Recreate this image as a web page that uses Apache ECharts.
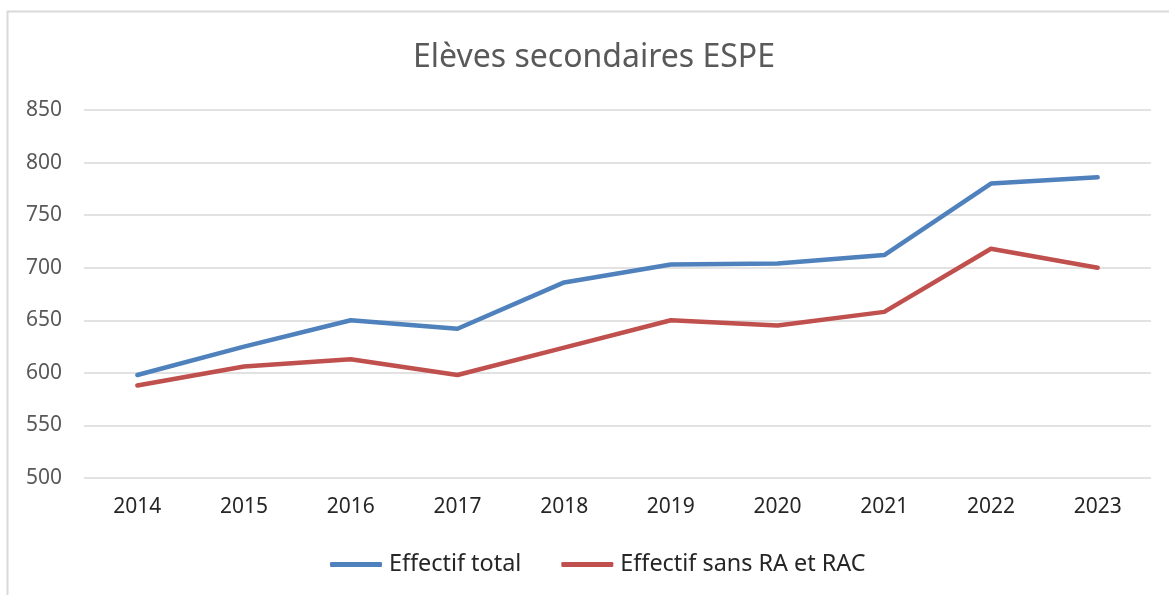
<!DOCTYPE html>
<html>
<head>
<meta charset="utf-8">
<script src="https://cdn.jsdelivr.net/npm/echarts@6/dist/echarts.min.js"></script>
<style>
  html, body { margin: 0; padding: 0; background: #ffffff; }
  #chart { width: 1169px; height: 595px; }
</style>
</head>
<body>
<div id="chart"></div>
<script>
const categories = ['2014', '2015', '2016', '2017', '2018', '2019', '2020', '2021', '2022', '2023'];
const effectifTotal = [598, 625, 650, 642, 686, 703, 704, 712, 780, 786];
const effectifSansRA = [588, 606, 613, 598, 624, 650, 645, 658, 718, 700];
const yTicks = { min: 500, max: 850, interval: 50 };
const seriesNames = ['Effectif total', 'Effectif sans RA et RAC'];
const titleText = 'Elèves secondaires ESPE';

const chart = echarts.init(document.getElementById('chart'), null, { renderer: 'canvas' });
const font = "'Noto Sans', 'DejaVu Sans', sans-serif";

chart.setOption({
  animation: false,
  backgroundColor: '#ffffff',
  graphic: [{
    type: 'rect',
    shape: { x: 7.5, y: 11.5, width: 1200, height: 620 },
    style: { fill: 'none', stroke: '#d9d9d9', lineWidth: 2 },
    silent: true
  }],
  title: {
    text: titleText,
    left: 408,
    top: 37,
    textStyle: { fontFamily: font, fontSize: 32, fontWeight: 'normal', color: '#595959' }
  },
  legend: {
    top: 548,
    left: 325,
    itemWidth: 52,
    itemHeight: 5,
    itemGap: 40,
    icon: 'roundRect',
    textStyle: { fontFamily: font, fontSize: 23.4, color: '#262626', padding: [0, 0, 0, 2] },
    data: seriesNames
  },
  grid: { left: 84, right: 18, top: 110, bottom: 117, containLabel: false },
  xAxis: {
    type: 'category',
    data: categories,
    boundaryGap: true,
    axisLine: { show: false },
    axisTick: { show: false },
    axisLabel: { fontFamily: font, fontSize: 21, color: '#262626', margin: 19 }
  },
  yAxis: {
    type: 'value',
    min: yTicks.min,
    max: yTicks.max,
    interval: yTicks.interval,
    axisLine: { show: false },
    axisTick: { show: false },
    axisLabel: { fontFamily: font, fontSize: 21, color: '#595959', margin: 22 },
    splitLine: { show: true, lineStyle: { color: '#d9d9d9', width: 1.5 } }
  },
  series: [
    {
      name: seriesNames[0],
      type: 'line',
      data: effectifTotal,
      symbol: 'none',
      color: '#4f81bd',
      lineStyle: { width: 4.5, color: '#4f81bd', cap: 'round', join: 'round' }
    },
    {
      name: seriesNames[1],
      type: 'line',
      data: effectifSansRA,
      symbol: 'none',
      color: '#c0504d',
      lineStyle: { width: 4.5, color: '#c0504d', cap: 'round', join: 'round' }
    }
  ]
});
</script>
</body>
</html>
